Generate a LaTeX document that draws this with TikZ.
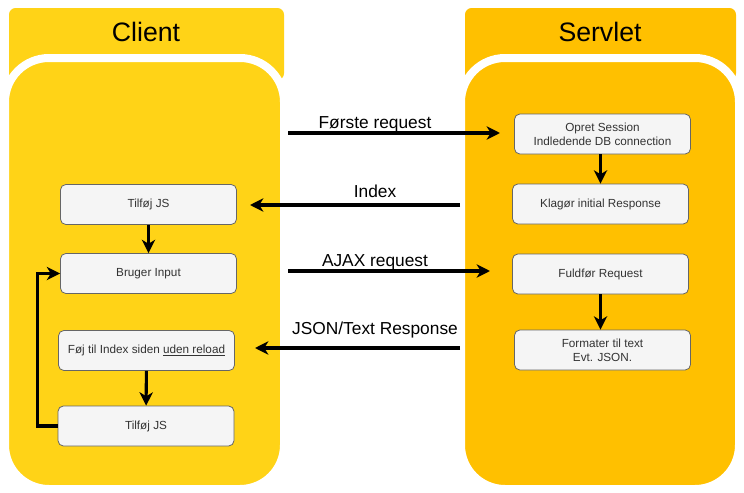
\documentclass[tikz,border=0pt]{standalone}
\usepackage{fontspec}
\setmainfont{Liberation Sans}
\usepackage{xcolor}
\usetikzlibrary{arrows.meta, positioning}
\definecolor{clientyellow}{HTML}{FFD317}
\definecolor{servletorange}{HTML}{FFC000}
\definecolor{boxfill}{HTML}{F5F5F5}
\definecolor{boxline}{HTML}{666666}
\definecolor{boxtext}{HTML}{333333}
\tikzset{
  stepbox/.style={draw=boxline, fill=boxfill, rounded corners=4pt, line width=0.6pt,
    minimum width=132pt, minimum height=30pt, align=center, text=boxtext,
    font=\fontsize{8.8}{10.5}\selectfont},
  flow/.style={line width=2.3pt, -{Stealth[length=10pt,width=10pt,inset=3pt]}},
  flowlabel/.style={font=\fontsize{13}{15}\selectfont},
  title/.style={font=\fontsize{20}{24}\selectfont},
  lane/.style={draw=white, line width=6pt, rounded corners=33pt}
}
\begin{document}
\begin{tikzpicture}[x=0.75pt,y=-0.75pt]
\useasboundingbox (0,0) rectangle (744,493);
% Swimlanes
\fill[clientyellow, rounded corners=5pt] (9,8) rectangle (284,80);
\filldraw[lane, fill=clientyellow] (5,58) rectangle (284,489);
\fill[servletorange, rounded corners=5pt] (465,8) rectangle (736,80);
\filldraw[lane, fill=servletorange] (461,58) rectangle (739,489);
\node[title] (clienttitle) at (146,32) {Client};
\node[title] (servlettitle) at (600,32) {Servlet};
% Client steps
\node[stepbox] (tilfojA) at (148.5,204.5) {Tilføj JS};
\node[stepbox] (bruger) at (148.5,273.5) {Bruger Input};
\node[stepbox] (foj) at (146.5,350.5) {Føj til Index siden \underline{uden reload}};
\node[stepbox] (tilfojB) at (146,426) {Tilføj JS};
% Servlet steps
\node[stepbox] (opret) at (602.5,134) {Opret Session\\Indledende DB connection};
\node[stepbox] (klagor) at (600.5,204) {Klagør initial Response};
\node[stepbox] (fuldfor) at (600.5,274) {Fuldfør Request};
\node[stepbox] (formater) at (602.5,350) {Formater til text\\Evt. JSON.};
% Free ends of the messages
\coordinate (reqA) at (288,133);
\coordinate (reqB) at (500,133);
\coordinate (idxA) at (460,205);
\coordinate (idxB) at (250,205);
\coordinate (ajaxA) at (288,271);
\coordinate (ajaxB) at (490,271);
\coordinate (jsonA) at (460,348);
\coordinate (jsonB) at (255,348);
% Messages
\draw[flow] (reqA) -- (reqB);
\node[flowlabel] (reqlabel) at (375,124) {Første request};
\draw[flow] (idxA) -- (idxB);
\node[flowlabel] (idxlabel) at (375,191) {Index};
\draw[flow] (ajaxA) -- (ajaxB);
\node[flowlabel] (ajaxlabel) at (375,262) {AJAX request};
\draw[flow] (jsonA) -- (jsonB);
\node[flowlabel] (jsonlabel) at (375,330) {JSON/Text Response};
% Steps
\draw[flow] (tilfojA) -- (bruger);
\draw[flow] (foj) -- (tilfojB);
\draw[flow] (klagor.north |- opret.south) -- (klagor.north);
\draw[flow] (fuldfor.south) -- (fuldfor.south |- formater.north);
\draw[flow] (tilfojB.west) -- ++(-20,0) |- (bruger.west);
\end{tikzpicture}
\end{document}
